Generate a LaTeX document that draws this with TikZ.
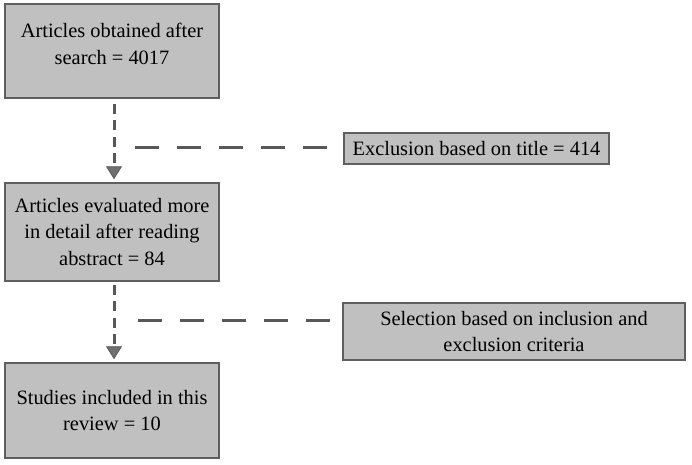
\documentclass[tikz,border=0pt]{standalone}
\usepackage{fontspec}
\setmainfont{Liberation Serif}
\usetikzlibrary{arrows.meta}
\definecolor{boxfill}{RGB}{192,192,192}
\definecolor{boxline}{RGB}{95,95,95}
\definecolor{dashcol}{RGB}{88,88,88}
\definecolor{tipcol}{RGB}{112,112,112}
\begin{document}
\begin{tikzpicture}[x=1pt,y=-1pt,
  flowbox/.style={draw=boxline, line width=1.5pt, fill=boxfill, align=center, inner sep=0pt,
    font=\fontsize{20.4}{26.6}\selectfont},
  vconn/.style={draw=dashcol, line width=3pt, dash pattern=on 10pt off 6.5pt,
    -{Triangle[width=16pt,length=13pt,fill=tipcol,line width=0.8pt]}},
  hconn/.style={draw=dashcol, line width=3pt, dash pattern=on 24pt off 18pt}]
\useasboundingbox (0,0) rectangle (692,464);
\fill[white] (0,0) rectangle (692,464);

\node[flowbox, minimum width=214pt, minimum height=94pt] (b1) at (112,51)
  {Articles obtained after\\search = 4017\\[-12pt]\mbox{}};
\node[flowbox, minimum width=214pt, minimum height=98pt] (b2) at (112,232)
  {Articles evaluated more\\in detail after reading\\abstract = 84};
\node[flowbox, minimum width=214pt, minimum height=95pt] (b3) at (112,410.5)
  {Studies included in this\\review = 10};
\node[flowbox, minimum width=265pt, minimum height=31pt] (ex) at (476.5,148.5)
  {Exclusion based on title = 414};
\node[flowbox, minimum width=342pt, minimum height=57pt] (sel) at (514,331.5)
  {Selection based on inclusion and\\exclusion criteria};

\draw[vconn] ([xshift=2pt,yshift=-5pt]b1.south) -- ([xshift=2pt,yshift=3pt]b2.north);
\draw[vconn] ([xshift=2pt,yshift=-3pt]b2.south) -- ([xshift=2pt,yshift=3pt]b3.north);

\coordinate (j1) at (135,147);
\coordinate (j2) at (138,320);
\draw[hconn, shorten >=15pt] (j1) -- (ex.west |- j1);
\draw[hconn, shorten >=11pt] (j2) -- (sel.west |- j2);
\end{tikzpicture}
\end{document}
